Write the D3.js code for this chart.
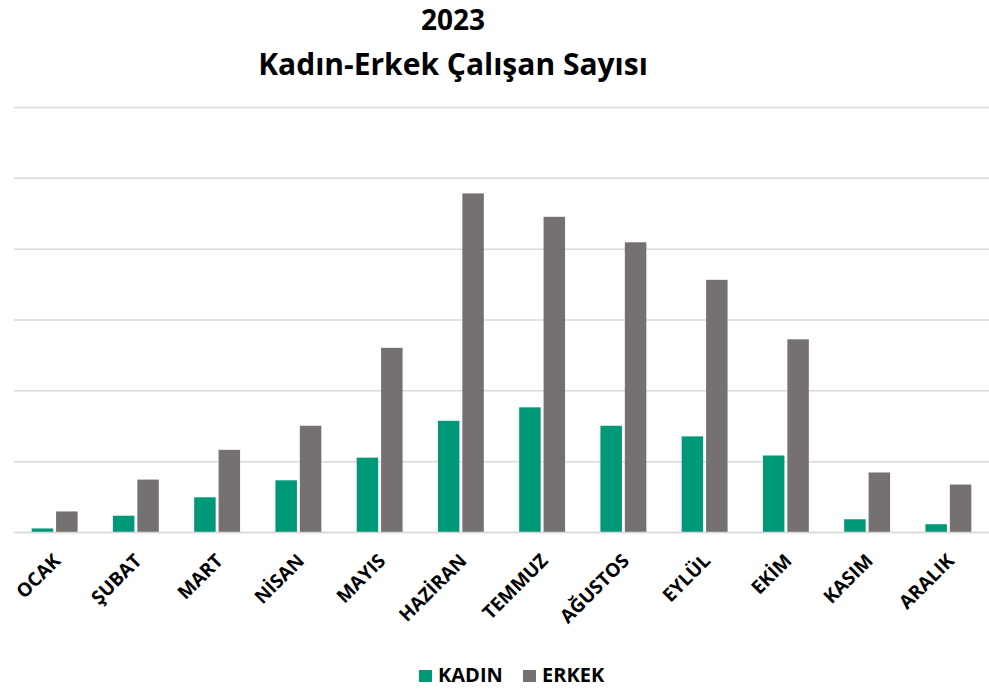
<!DOCTYPE html>
<meta charset="utf-8">
<style>
  body { margin: 0; background: #fff; }
  text { font-family: "Open Sans", "Noto Sans", sans-serif; }
</style>
<svg width="989" height="692"></svg>
<script src="https://cdn.jsdelivr.net/npm/d3@7"></script>
<script>

// months (x categories)
var months = ["OCAK", "ŞUBAT", "MART", "NİSAN", "MAYIS", "HAZİRAN",
              "TEMMUZ", "AĞUSTOS", "EYLÜL", "EKİM", "KASIM", "ARALIK"];

// values, in gridline units (the axis has no labels)
var kadin = [0.05, 0.23, 0.49, 0.73, 1.05, 1.57, 1.76, 1.50, 1.35, 1.08, 0.18, 0.11];
var erkek = [0.29, 0.74, 1.16, 1.50, 2.60, 4.78, 4.45, 4.09, 3.56, 2.72, 0.84, 0.67];

var seriesNames = ["KADIN", "ERKEK"];
var colors = ["#009977", "#767171"];
var gridTicks = [0, 1, 2, 3, 4, 5, 6];

var svg = d3.select("svg"),
    margin = {top: 107, right: 0, bottom: 160, left: 14},
    width = +svg.attr("width") - margin.left - margin.right,
    height = +svg.attr("height") - margin.top - margin.bottom,
    g = svg.append("g").attr("transform", "translate(" + margin.left + "," + margin.top + ")");

var x = d3.scaleBand().domain(months).range([0, width]).paddingInner(0.435).paddingOuter(0.2175);
var x1 = d3.scaleBand().domain(seriesNames).range([0, x.bandwidth()]).paddingInner(0.12);
var y = d3.scaleLinear().domain([0, 6]).range([height, 0]);

// title
svg.append("text")
    .attr("x", 453).attr("y", 30)
    .attr("text-anchor", "middle")
    .style("font-size", "28px").style("font-weight", "bold")
    .text("2023");
svg.append("text")
    .attr("x", 453).attr("y", 75)
    .attr("text-anchor", "middle")
    .style("font-size", "30px").style("font-weight", "bold")
    .text("Kadın-Erkek Çalışan Sayısı");

// gridlines
g.append("g")
    .attr("class", "grid")
    .call(d3.axisLeft(y).tickValues(gridTicks).tickSize(-width).tickFormat(""))
    .call(function(s) {
      s.select(".domain").remove();
      s.selectAll("line").attr("stroke", "#d9d9d9").attr("stroke-width", 1.5);
    });

// bars
var rows = months.map(function(m, i) { return {month: m, vals: [kadin[i], erkek[i]]}; });

var groups = g.selectAll(".month")
  .data(rows)
  .enter().append("g")
    .attr("class", "month")
    .attr("transform", function(d) { return "translate(" + x(d.month) + ",0)"; });

groups.selectAll("rect")
  .data(function(d) { return d.vals.map(function(v, i) { return {name: seriesNames[i], v: v, c: colors[i]}; }); })
  .enter().append("rect")
    .attr("x", function(d) { return x1(d.name); })
    .attr("width", x1.bandwidth())
    .attr("y", function(d) { return y(d.v); })
    .attr("height", function(d) { return y(0) - y(d.v); })
    .attr("fill", function(d) { return d.c; });

// x axis labels
var xAxis = g.append("g")
    .attr("transform", "translate(0," + height + ")")
    .call(d3.axisBottom(x).tickSize(0).tickPadding(0));
xAxis.select(".domain").attr("stroke", "#d9d9d9").attr("stroke-width", 1.5);
xAxis.selectAll("text")
    .style("font-size", "19px").style("font-weight", "bold").attr("fill", "#000")
    .attr("text-anchor", "end")
    .attr("y", 0).attr("dy", 0)
    .attr("transform", "translate(7,30) rotate(-45)");

// legend
var legend = svg.append("g").attr("transform", "translate(419,682)");
var lx = [0, 104];
seriesNames.forEach(function(n, i) {
  legend.append("rect").attr("x", lx[i]).attr("y", -12).attr("width", 13).attr("height", 12).attr("fill", colors[i]);
  legend.append("text").attr("x", lx[i] + 19).attr("y", 0)
      .style("font-size", "20px").style("font-weight", "bold").text(n);
});

</script>
